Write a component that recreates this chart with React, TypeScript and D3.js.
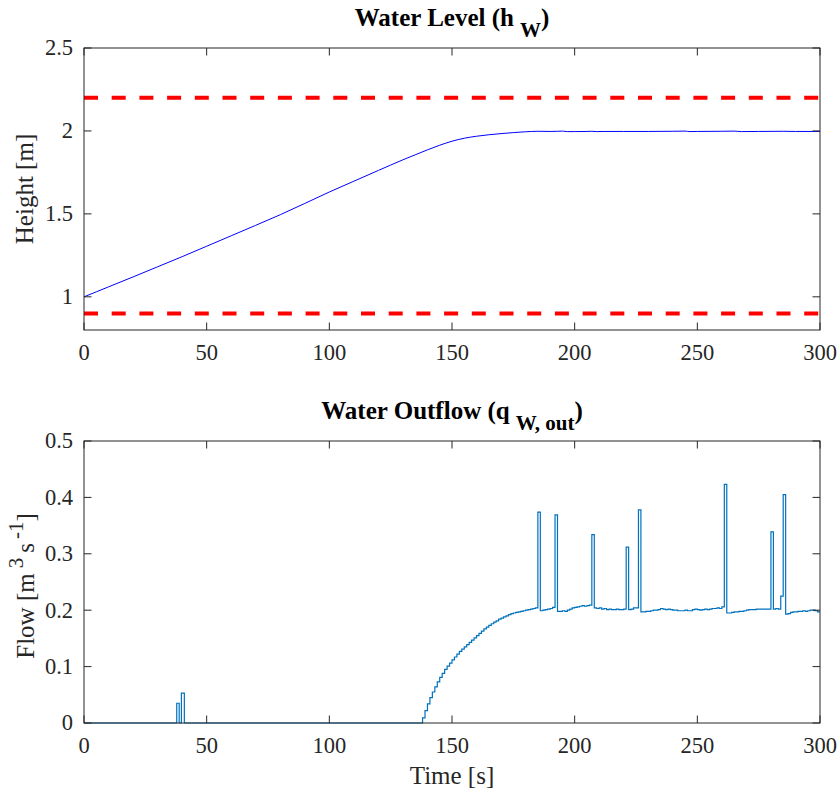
import React from 'react';
import * as d3 from 'd3';

// ---------- data ----------
const timeTicks = [0, 50, 100, 150, 200, 250, 300];
const heightTicks = [1, 1.5, 2, 2.5];
const flowTicks = [0, 0.1, 0.2, 0.3, 0.4, 0.5];
const levelLimits = [2.2, 0.9];

const levelTimes = [0, 5, 10, 20, 30, 40, 50, 60, 70, 80, 90, 100, 110, 120, 130, 135, 140, 145, 150, 155, 160, 165, 170, 175, 180, 185, 190, 193, 195, 197, 200, 205, 207, 209, 212, 220, 230, 240, 245, 247, 250, 260, 265, 268, 275, 285, 290, 300];
const levelValues = [1.0, 1.03, 1.06, 1.12, 1.181, 1.242, 1.305, 1.368, 1.431, 1.495, 1.563, 1.632, 1.697, 1.762, 1.826, 1.856, 1.886, 1.914, 1.938, 1.956, 1.968, 1.977, 1.984, 1.99, 1.995, 1.998, 1.997, 1.998, 1.999, 1.996, 1.996, 1.997, 1.998, 1.996, 1.997, 1.997, 1.997, 1.998, 1.999, 1.996, 1.997, 1.998, 1.999, 1.996, 1.997, 1.998, 1.997, 1.997];

const flowTimes = [0, 37.8, 38.8, 39.7, 40.9,
  138, 139, 140, 141, 142, 143, 144, 145, 146, 147, 148, 149, 150, 151, 152, 153, 154, 155, 156, 157, 158, 159,
  160, 161, 162, 163, 164, 165, 166, 167, 168, 169, 170, 171, 172, 173, 174, 175, 176, 177, 178, 179,
  180, 181, 182, 183, 184, 185, 186, 187, 188, 189, 190, 191, 192, 193, 194, 195, 196, 197, 198, 199,
  200, 201, 202, 203, 204, 205, 206, 207, 208, 209, 210, 211, 212, 213, 214, 215, 216, 217, 218, 219,
  220, 221, 222, 223, 224, 225, 226, 227, 228, 229, 230, 231, 232, 233, 234, 235, 236, 237, 238, 239,
  240, 241, 242, 243, 244, 245, 246, 247, 248, 249, 250, 251, 252, 253, 254, 255, 256, 257, 258, 259,
  260, 261, 262, 263, 264, 265, 266, 267, 268, 269, 270, 271, 272, 273, 274, 275, 276, 277, 278, 279,
  280, 281, 282, 283, 284, 285, 286, 287, 288, 289, 290, 291, 292, 293, 294, 295, 296, 297, 298, 299, 300];
const flowValues = [0, 0.035, 0, 0.053, 0,
  0.009, 0.022, 0.034, 0.045, 0.055, 0.064, 0.073, 0.081, 0.088, 0.095, 0.101, 0.106, 0.112, 0.117, 0.122, 0.127, 0.131, 0.135, 0.139, 0.143, 0.147, 0.151,
  0.155, 0.159, 0.163, 0.167, 0.17, 0.173, 0.176, 0.179, 0.181, 0.184, 0.186, 0.188, 0.19, 0.192, 0.194, 0.195, 0.196, 0.197, 0.198, 0.199,
  0.2, 0.201, 0.202, 0.203, 0.204, 0.374, 0.199, 0.2, 0.201, 0.202, 0.203, 0.205, 0.369, 0.198, 0.198, 0.199, 0.198, 0.2, 0.202, 0.204,
  0.205, 0.206, 0.207, 0.208, 0.207, 0.208, 0.209, 0.334, 0.204, 0.203, 0.204, 0.202, 0.203, 0.201, 0.202, 0.201, 0.201, 0.202, 0.201, 0.201,
  0.202, 0.312, 0.201, 0.202, 0.204, 0.204, 0.378, 0.197, 0.197, 0.198, 0.198, 0.199, 0.2, 0.2, 0.201, 0.203, 0.202, 0.201, 0.202, 0.201,
  0.2, 0.2, 0.199, 0.199, 0.199, 0.2, 0.199, 0.199, 0.201, 0.202, 0.201, 0.2, 0.201, 0.202, 0.201, 0.202, 0.203, 0.203, 0.204, 0.203,
  0.206, 0.423, 0.195, 0.195, 0.196, 0.197, 0.197, 0.198, 0.198, 0.199, 0.2, 0.201, 0.201, 0.201, 0.202, 0.202, 0.202, 0.202, 0.202, 0.202,
  0.339, 0.202, 0.203, 0.202, 0.225, 0.405, 0.193, 0.194, 0.196, 0.197, 0.197, 0.198, 0.198, 0.199, 0.198, 0.199, 0.2, 0.2, 0.199, 0.197, 0.197];

// ---------- layout ----------
const W = 840;
const H = 791;
const LEFT = 84;
const RIGHT = 820;
const TOP1 = 48;
const BOT1 = 330;
const TOP2 = 441;
const BOT2 = 723;
const AX = '#262626';
const FONT = '"Liberation Serif", "Times New Roman", serif';
const TICK = 7.5;
const TICK_FS = 22.5;
const LABEL_FS = 25;
const TITLE_FS = 25;
const SUB_FS = 21;

type AxesProps = {
  top: number;
  bottom: number;
  x: d3.ScaleLinear<number, number>;
  y: d3.ScaleLinear<number, number>;
  yTicks: number[];
};

function Axes({ top, bottom, x, y, yTicks }: AxesProps) {
  return (
    <g>
      <rect x={LEFT} y={top} width={RIGHT - LEFT} height={bottom - top} fill="none" stroke={AX} strokeWidth={1} />
      {timeTicks.map((t) => (
        <g key={'xt' + t}>
          <line x1={x(t)} x2={x(t)} y1={bottom} y2={bottom - TICK} stroke={AX} strokeWidth={1} />
          <line x1={x(t)} x2={x(t)} y1={top} y2={top + TICK} stroke={AX} strokeWidth={1} />
          <text x={x(t)} y={bottom + 30} textAnchor="middle" fontFamily={FONT} fontSize={TICK_FS} fill={AX}>
            {t}
          </text>
        </g>
      ))}
      {yTicks.map((v) => (
        <g key={'yt' + v}>
          <line x1={LEFT} x2={LEFT + TICK} y1={y(v)} y2={y(v)} stroke={AX} strokeWidth={1} />
          <line x1={RIGHT} x2={RIGHT - TICK} y1={y(v)} y2={y(v)} stroke={AX} strokeWidth={1} />
          <text x={73} y={y(v)} dy="0.33em" textAnchor="end" fontFamily={FONT} fontSize={TICK_FS} fill={AX}>
            {String(v)}
          </text>
        </g>
      ))}
    </g>
  );
}

export default function App() {
  const x = d3.scaleLinear().domain([0, 300]).range([LEFT, RIGHT]);
  const yH = d3.scaleLinear().domain([0.8, 2.5]).range([BOT1, TOP1]);
  const yQ = d3.scaleLinear().domain([0, 0.5]).range([BOT2, TOP2]);

  const levelPts = levelTimes.map((t, i) => [t, levelValues[i]] as [number, number]);
  const flowPts = flowTimes.map((t, i) => [t, flowValues[i]] as [number, number]);

  const levelLine = d3
    .line<[number, number]>()
    .x((d) => x(d[0]))
    .y((d) => yH(d[1]))
    .curve(d3.curveMonotoneX);
  const flowLine = d3
    .line<[number, number]>()
    .x((d) => x(d[0]))
    .y((d) => yQ(d[1]))
    .curve(d3.curveStepAfter);

  const cx = (LEFT + RIGHT) / 2;

  return (
    <svg width={W} height={H} style={{ position: 'absolute', left: 0, top: 0, background: '#fff' }}>
      <rect x={0} y={0} width={W} height={H} fill="#fff" />
      <defs>
        <clipPath id="clip1">
          <rect x={LEFT} y={TOP1} width={RIGHT - LEFT} height={BOT1 - TOP1} />
        </clipPath>
        <clipPath id="clip2">
          <rect x={LEFT - 1} y={TOP2} width={RIGHT - LEFT + 2} height={BOT2 - TOP2 + 1} />
        </clipPath>
      </defs>

      {/* Top panel */}
      <g clipPath="url(#clip1)">
        {levelLimits.map((v) => (
          <line key={'lim' + v} x1={x(0)} x2={x(300)} y1={yH(v)} y2={yH(v)} stroke="#ff0000" strokeWidth={4} strokeDasharray="14 13.7" />
        ))}
        <path d={levelLine(levelPts) || ''} fill="none" stroke="#0000ff" strokeWidth={1} />
      </g>
      <Axes top={TOP1} bottom={BOT1} x={x} y={yH} yTicks={heightTicks} />
      <text x={cx} y={26} textAnchor="middle" fontFamily={FONT} fontSize={TITLE_FS} fontWeight="bold" fill="#000">
        Water Level (h
        <tspan dx={6} dy={11} fontSize={SUB_FS}>W</tspan>
        <tspan dy={-11}>)</tspan>
      </text>
      <text transform={`translate(33, ${(TOP1 + BOT1) / 2}) rotate(-90)`} textAnchor="middle" fontFamily={FONT} fontSize={LABEL_FS} fill={AX}>
        Height [m]
      </text>

      {/* Bottom panel */}
      <g clipPath="url(#clip2)">
        <path d={flowLine(flowPts) || ''} fill="none" stroke="#0072bd" strokeWidth={1.2} />
      </g>
      <Axes top={TOP2} bottom={BOT2} x={x} y={yQ} yTicks={flowTicks} />
      <text x={cx} y={419} textAnchor="middle" fontFamily={FONT} fontSize={TITLE_FS} fontWeight="bold" fill="#000">
        Water Outflow (q
        <tspan dx={6} dy={11} fontSize={SUB_FS}>W, out</tspan>
        <tspan dy={-11}>)</tspan>
      </text>
      <text transform={`translate(34, ${(TOP2 + BOT2) / 2 + 4}) rotate(-90)`} textAnchor="middle" fontFamily={FONT} fontSize={LABEL_FS} fill={AX}>
        Flow [m
        <tspan dx={5} dy={-11} fontSize={21}>3</tspan>
        <tspan dx={5} dy={11}>s</tspan>
        <tspan dx={4} dy={-11} fontSize={21}>-1</tspan>
        <tspan dy={11}>]</tspan>
      </text>
      <text x={cx} y={784} textAnchor="middle" fontFamily={FONT} fontSize={LABEL_FS} fill={AX}>
        Time [s]
      </text>
    </svg>
  );
}
